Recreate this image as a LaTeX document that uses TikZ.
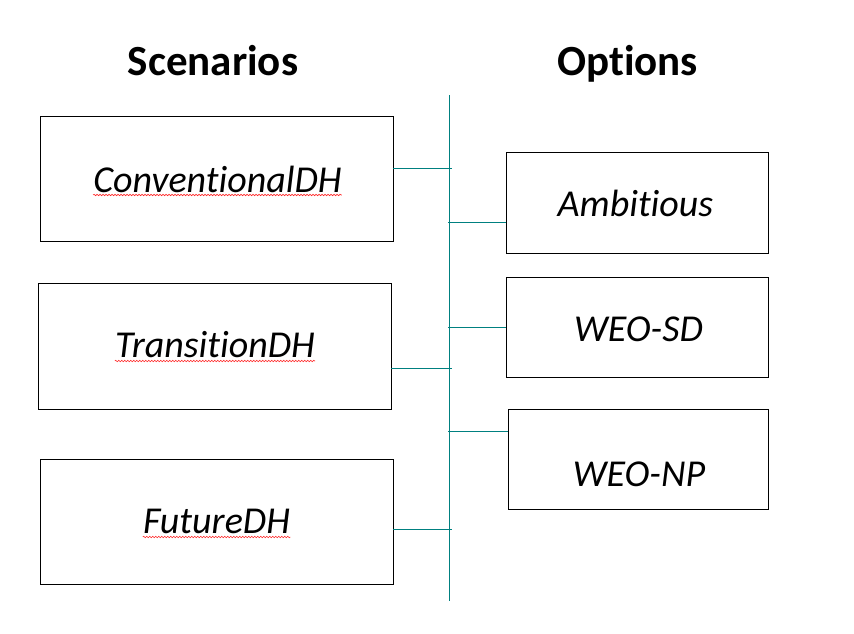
\documentclass[tikz,border=0pt]{standalone}
\usepackage{fontspec}
\setmainfont{Carlito}[Ligatures={NoCommon,NoContextual}]
\usetikzlibrary{decorations.pathmorphing}
\definecolor{tealline}{RGB}{0,128,128}
\tikzset{
  box/.style={draw=black, line width=0.9pt, inner sep=0pt},
  boxtext/.style={inner sep=0pt, anchor=base, font=\fontsize{38}{41}\selectfont\itshape},
  heading/.style={inner sep=0pt, anchor=base, font=\fontsize{43}{48}\selectfont\bfseries},
  conn/.style={draw=tealline, line width=0.9pt},
  squig/.style={draw=red!85!white, line width=0.6pt, decorate,
    decoration={snake, amplitude=0.7pt, segment length=3pt}}
}
\begin{document}
\begin{tikzpicture}[x=1pt,y=-1pt]
\useasboundingbox[fill=white] (0,0) rectangle (854,634);

% headings
\node[heading] (hs) at (213,76) {Scenarios};
\node[heading] (ho) at (627.5,76) {Options};

% left boxes
\node[box, minimum width=353pt, minimum height=125pt] (b1) at (216.5,178.5) {};
\node[box, minimum width=353pt, minimum height=126pt] (b2) at (214.5,346) {};
\node[box, minimum width=353pt, minimum height=125pt] (b3) at (216.5,521.5) {};

% right boxes
\node[box, minimum width=262pt, minimum height=101pt] (r1) at (637,202.5) {};
\node[box, minimum width=262pt, minimum height=100pt] (r2) at (637,327) {};
\node[box, minimum width=260pt, minimum height=100pt] (r3) at (638,459) {};

% texts
\node[boxtext] (t1) at (217.5,192) {ConventionalDH};
\node[boxtext] (t2) at (215,357) {TransitionDH};
\node[boxtext] (t3) at (216.5,533) {FutureDH};
\node[boxtext] (t4) at (635.5,216) {Ambitious};
\node[boxtext] (t5) at (638.5,341) {WEO-SD};
\node[boxtext] (t6) at (639,486) {WEO-NP};

% spell-check squiggles
\draw[squig] ([yshift=-3pt]t1.base west) -- ([yshift=-3pt]t1.base east);
\draw[squig] ([yshift=-4pt]t2.base west) -- ([yshift=-4pt]t2.base east);
\draw[squig] ([yshift=-4pt]t3.base west) -- ([yshift=-4pt]t3.base east);

% spine
\coordinate (top) at (449,95);
\coordinate (bot) at (449,601);
\draw[conn] (top) -- (bot);

% connector end points
\coordinate (c1) at (452,168);
\coordinate (c2) at (452,368);
\coordinate (c3) at (452,529);
\coordinate (d1) at (448,222);
\coordinate (d2) at (448,327);
\coordinate (d3) at (448,431);

\draw[conn] (b1.east |- c1) -- (c1);
\draw[conn] (b2.east |- c2) -- (c2);
\draw[conn] (b3.east |- c3) -- (c3);
\draw[conn] (d1) -- (r1.west |- d1);
\draw[conn] (d2) -- (r2.west |- d2);
\draw[conn] (d3) -- (r3.west |- d3);
\end{tikzpicture}
\end{document}
